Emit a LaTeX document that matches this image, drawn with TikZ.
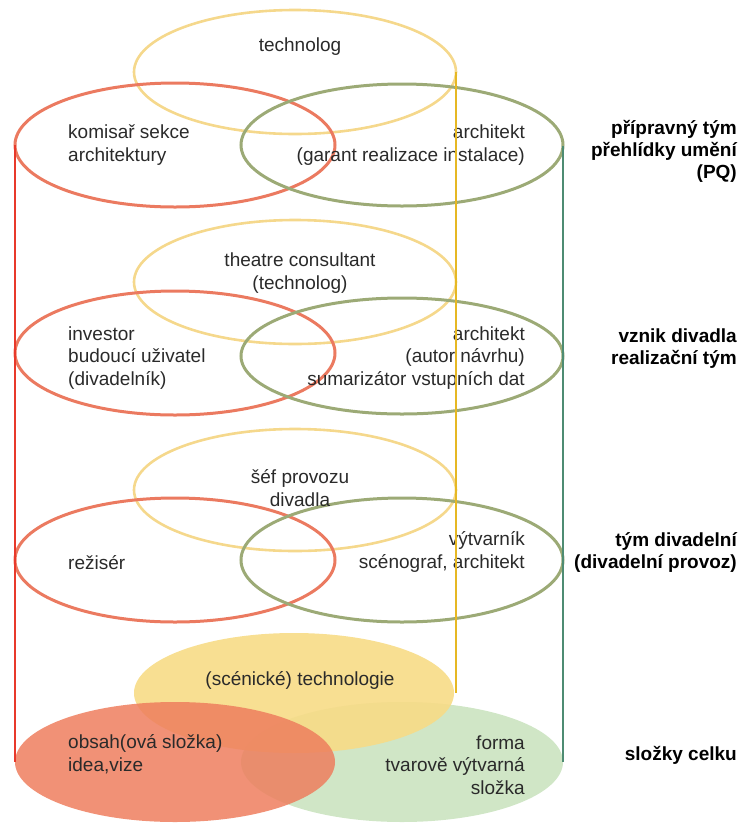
\documentclass[tikz,border=0pt]{standalone}
\usepackage{fontspec}
\setmainfont{Liberation Sans}
\definecolor{redring}{HTML}{EB7A60}
\definecolor{greenring}{HTML}{9CAA76}
\definecolor{yellowring}{HTML}{F5D88C}
\definecolor{redbar}{HTML}{E8392B}
\definecolor{yellowbar}{HTML}{E6B824}
\definecolor{greenbar}{HTML}{4E8C73}
\definecolor{redfill}{HTML}{EE7E5E}
\definecolor{greenfill}{HTML}{D0E6C6}
\definecolor{yellowfill}{HTML}{F7DB86}
\definecolor{txt}{HTML}{2A2A2A}
\begin{document}
\begin{tikzpicture}[x=1pt,y=-1pt,
  ring/.style={line width=3pt},
  bar/.style={line width=2.6pt},
  lbl/.style={inner sep=0pt, text=txt, font=\fontsize{19}{22.5}\selectfont},
  side/.style={inner sep=0pt, text=black, font=\fontsize{19}{22}\selectfont\bfseries, align=right, anchor=east}]
\useasboundingbox (0,0) rectangle (741,823);

% ---- group 1: PQ
\draw[ring, yellowring, line width=2.6pt] (295,72) ellipse [x radius=161, y radius=62];
\draw[ring, redring] (175,145) ellipse [x radius=160, y radius=62];
\draw[ring, greenring] (402,145) ellipse [x radius=161, y radius=61];
\node[lbl] (t1) at (300,47) {technolog};
\node[lbl, align=left, anchor=west] (r1) at (68,145) {komisař sekce\\architektury};
\node[lbl, align=right, anchor=east] (g1) at (525,145) {architekt\\(garant realizace instalace)};
\node[side] (s1) at (737,151) {přípravný tým\\přehlídky umění\\(PQ)};

% ---- group 2: vznik divadla
\draw[ring, yellowring, line width=2.6pt] (295,282) ellipse [x radius=161, y radius=62];
\draw[ring, redring] (175,353) ellipse [x radius=160, y radius=62];
\draw[ring, greenring] (402,356) ellipse [x radius=161, y radius=58];
\node[lbl, align=center] (t2) at (300,273) {theatre consultant\\(technolog)};
\node[lbl, align=left, anchor=west] (r2) at (68,358) {investor\\budoucí uživatel\\(divadelník)};
\node[lbl, align=right, anchor=east] (g2) at (525,358) {architekt\\(autor návrhu)\\sumarizátor vstupních dat};
\node[side] (s2) at (737,349) {vznik divadla\\realizační tým};

% ---- group 3: tym divadelni
\draw[ring, yellowring, line width=2.6pt] (295,490) ellipse [x radius=161, y radius=61];
\draw[ring, redring] (175,560) ellipse [x radius=160, y radius=62];
\draw[ring, greenring] (402,560) ellipse [x radius=161, y radius=62];
\node[lbl, align=center] (t3) at (300,488) {šéf provozu\\divadla};
\node[lbl, anchor=west] (r3) at (68,563) {režisér};
\node[lbl, align=right, anchor=east] (g3) at (525,552) {výtvarník\\scénograf, architekt};
\node[side] (s3) at (737,552) {tým divadelní\\(divadelní provoz)};

% ---- group 4: slozky celku
\fill[greenfill] (402,762) ellipse [x radius=161, y radius=60];
\fill[yellowfill, fill opacity=0.9] (294,693) ellipse [x radius=160, y radius=60];
\fill[redfill, fill opacity=0.85] (175,762) ellipse [x radius=160, y radius=60];
\node[lbl] (t4) at (300,680) {(scénické) technologie};
\node[lbl, align=left, anchor=west] (r4) at (68,754) {obsah(ová složka)\\idea,vize};
\node[lbl, align=right, anchor=east] (g4) at (525,765) {forma\\tvarově výtvarná\\složka};
\node[side] (s4) at (737,755) {složky celku};

% ---- vertical bars
\coordinate (rtop) at (15,145);
\coordinate (rbot) at (15,762);
\coordinate (ytop) at (456,72);
\coordinate (ybot) at (456,693);
\coordinate (gtop) at (563,146);
\coordinate (gbot) at (563,762);
\draw[bar, redbar] (rtop) -- (rbot);
\draw[bar, yellowbar] (ytop) -- (ybot);
\draw[bar, greenbar] (gtop) -- (gbot);
\end{tikzpicture}
\end{document}
